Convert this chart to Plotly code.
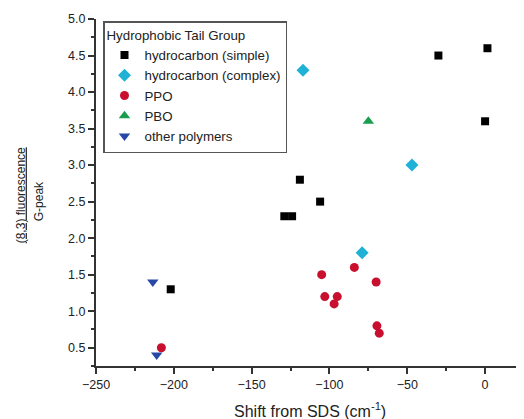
import plotly.graph_objects as go

# Data
simple_x = [1.5, -30, 0, -119, -106, -129, -124, -202]
simple_y = [4.6, 4.5, 3.6, 2.8, 2.5, 2.3, 2.3, 1.3]
complex_x = [-117, -47, -79]
complex_y = [4.3, 3.0, 1.8]
ppo_x = [-84, -105, -70, -103, -95, -97, -69.5, -68, -208]
ppo_y = [1.6, 1.5, 1.4, 1.2, 1.2, 1.1, 0.8, 0.7, 0.5]
pbo_x = [-75]
pbo_y = [3.6]
other_x = [-213.5, -211]
other_y = [1.4, 0.4]

FONT = "Liberation Sans, Arial, sans-serif"
OFF = 8  # page body margin offset
W, H = 524 - OFF, 419 - OFF
L, T, B = 96 - OFF, 18.7 - OFF, 365.7 - OFF
PW, PH = W - L, B - T


def px(xp):
    return (xp - OFF - L) / PW


def py(yp):
    return (B - (yp - OFF)) / PH


fig = go.Figure()
fig.add_trace(go.Scatter(x=simple_x, y=simple_y, mode="markers", name="hydrocarbon (simple)",
                         marker=dict(symbol="square", size=8, color="#000000")))
fig.add_trace(go.Scatter(x=complex_x, y=complex_y, mode="markers", name="hydrocarbon (complex)",
                         marker=dict(symbol="diamond", size=10, color="#1fb2d6")))
fig.add_trace(go.Scatter(x=ppo_x, y=ppo_y, mode="markers", name="PPO",
                         marker=dict(symbol="circle", size=9, color="#c8102e")))
fig.add_trace(go.Scatter(x=pbo_x, y=pbo_y, mode="markers", name="PBO",
                         marker=dict(symbol="triangle-up", size=10, color="#1a9e4e")))
fig.add_trace(go.Scatter(x=other_x, y=other_y, mode="markers", name="other polymers",
                         marker=dict(symbol="triangle-down", size=10, color="#2848a8")))

axis_common = dict(showline=True, linecolor="#333333", linewidth=2, showgrid=False, zeroline=False,
                   ticks="outside", tickcolor="#333333", tickwidth=1.5, ticklen=6, automargin=False,
                   tickfont=dict(family=FONT, size=12.5, color="#222222"), mirror=False)

fig.update_xaxes(range=[-250, 25], dtick=50, tick0=0,
                 minor=dict(ticks="outside", dtick=25, tick0=0, ticklen=3, tickcolor="#333333", tickwidth=1.5),
                 **axis_common)
fig.update_yaxes(range=[0.25, 5.0], dtick=0.5, tick0=0, tickformat=".1f",
                 minor=dict(ticks="outside", dtick=0.25, tick0=0, ticklen=3, tickcolor="#333333", tickwidth=1.5),
                 **axis_common)

fig.add_annotation(text="<u>(8,3) fluorescence</u>", xref="paper", yref="paper",
                   x=px(21), y=py(195), textangle=-90,
                   xanchor="center", yanchor="middle", showarrow=False,
                   font=dict(family=FONT, size=12, color="#222222"))
fig.add_annotation(text="G-peak", xref="paper", yref="paper",
                   x=px(39), y=py(201), textangle=-90,
                   xanchor="center", yanchor="middle", showarrow=False,
                   font=dict(family=FONT, size=12, color="#222222"))
fig.add_annotation(text="Shift from SDS (cm<sup>-1</sup>)", xref="paper", yref="paper",
                   x=px(310), y=py(410),
                   xanchor="center", yanchor="middle", showarrow=False,
                   font=dict(family=FONT, size=16, color="#222222"))

fig.update_layout(
    width=W, height=H,
    margin=dict(l=L, r=0, t=T, b=H - B, autoexpand=False),
    paper_bgcolor="white", plot_bgcolor="white",
    font=dict(family=FONT, size=12, color="#222222"),
    legend=dict(title=dict(text="Hydrophobic Tail Group", font=dict(family=FONT, size=13.3)),
                x=px(103), y=py(20.7), xanchor="left", yanchor="top",
                bordercolor="#555555", borderwidth=1.5, bgcolor="white",
                font=dict(family=FONT, size=13.3), tracegroupgap=0),
    showlegend=True,
)

fig.write_html("out.html")
